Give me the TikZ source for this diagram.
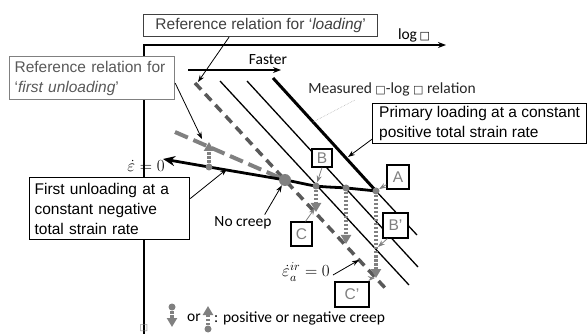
\RequirePackage{fix-cm}
\documentclass[tikz,border=0pt]{standalone}
\usepackage{fontspec}
\newfontfamily\arial{Liberation Sans}
\newfontfamily\calib{Carlito}
\newfontfamily\dejavu{DejaVu Sans}
\usetikzlibrary{arrows.meta, positioning}

\definecolor{dotgray}{HTML}{808080}
\definecolor{refgray}{HTML}{595959}
\definecolor{txtgray}{HTML}{404040}

\tikzset{
	lbl/.style={draw, line width=1.2pt, fill=white, font=\arial\fontsize{15.5}{20}\selectfont, align=left, inner xsep=5pt, inner ysep=2pt, anchor=north west},
	tag/.style={draw, line width=1.2pt, fill=white, text=dotgray, font=\arial\fontsize{15.5}{18}\selectfont, inner sep=0pt},
	dot/.style={circle, fill=dotgray, inner sep=0pt, minimum size=7pt},
	creep/.style={dotgray, line width=3.2pt, dash pattern=on 2.5pt off 1.5pt, -{Triangle[length=9pt,width=10pt]}},
	ptr/.style={line width=0.8pt, -{Stealth[length=7pt,width=5pt]}},
	txt/.style={font=\calib\fontsize{15.5}{18}\selectfont, inner sep=0pt},
	mth/.style={font=\fontsize{17}{20}\selectfont, inner sep=0pt},
	meas/.style={line width=1.3pt},
}

\begin{document}
\begin{tikzpicture}[x=1pt, y=-1pt]
	\useasboundingbox (0,0) rectangle (587,334);

	% axes
	\draw[line width=1.4pt, -{Stealth[length=8pt,width=6pt]}] (144,334) -- (144,45) -- (446,45);
	\node[txt] (xlab) at (414,35) {log\,{\dejavu\fontsize{11}{11}\selectfont □}};
	\node[inner sep=0pt, text=dotgray, font=\dejavu\fontsize{9}{9}\selectfont] (olab) at (144,328) {□};

	% points on the paths
	\coordinate (a) at (376,191);
	\coordinate (m) at (346,188);
	\coordinate (b) at (316,186);
	\coordinate (o) at (285,180);
	\coordinate (u) at (209,167);
	\coordinate (e0) at (163,159);

	% measured relations
	\coordinate (s1) at (273,78);
	\coordinate (t1) at (417,235);
	\coordinate (s2) at (247,81);
	\coordinate (t2) at (418,267);
	\coordinate (s3) at (220,81);
	\coordinate (t3) at (409,285);
	\draw[line width=3pt] (s1) -- (a);
	\draw[meas] (a) -- (t1);
	\draw[meas] (s2) -- (t2);
	\draw[meas] (s3) -- (t3);
	\draw[dotgray!60, line width=0.6pt, densely dotted] (313,122) -- (355,100);

	% reference relations
	\coordinate (rl) at (195,83);
	\coordinate (rle) at (387,290);
	\coordinate (ru) at (175,132);
	\draw[refgray, line width=3.5pt, dash pattern=on 9pt off 6pt] (rl) -- (rle);
	\draw[dotgray, line width=4pt, dash pattern=on 14pt off 6pt] (ru) -- (o);

	% first unloading
	\draw[line width=2.8pt, -{Stealth[length=12pt,width=10pt]}]
		plot[smooth, tension=0.5] coordinates {(a) (m) (b) (o) (u) (e0)};

	% creep
	\draw[creep] (m) -- (346,244);
	\draw[creep] (b) -- (316,212);
	\draw[creep] (a) -- (376,278);
	\draw[creep] (u) -- (209,142);

	\node[dot] (da) at (a) {};
	\node[dot] (dm) at (m) {};
	\node[dot] (db) at (b) {};
	\node[dot] (du) at (u) {};
	\node[dot, minimum size=12pt] (do) at (o) {};

	% faster
	\coordinate (f1) at (188,70);
	\coordinate (f2) at (281,70);
	\draw[line width=1.2pt, -{Stealth[length=8pt,width=6pt]}] (f1) -- (f2);
	\node[txt] (fast) at (268,60) {Faster};

	% labels
	\node[lbl, text=txtgray, draw=txtgray, minimum width=234pt, minimum height=22pt] (box1) at (143,14)
		{Reference relation for ‘\textit{loading}’};
	\node[lbl, text=refgray, draw=dotgray, text width=155pt, minimum height=43pt] (box2) at (9,56)
		{Reference relation for\\‘\textit{first unloading}’};
	\node[lbl, minimum width=214pt, minimum height=40pt] (box3) at (372,103)
		{Primary loading at a constant\\positive total strain rate};
	\node[lbl, text width=150pt, minimum height=62pt] (box4) at (29,177)
		{First unloading at a\\constant negative\\total strain rate};
	\node[txt, text=black!85] (meas) at (392,89)
		{Measured {\dejavu\fontsize{11}{11}\selectfont □}-log {\dejavu\fontsize{11}{11}\selectfont □} relation};
	\node[txt] (nocreep) at (243,223) {No creep};
	\node[mth] (eps) at (146,166) {$\dot{\varepsilon}=0$};
	\node[mth] (epsa) at (306,272) {$\dot{\varepsilon}_a^{ir}=0$};

	\node[tag, minimum width=22pt, minimum height=24pt] (tA) at (398,177) {A};
	\node[tag, minimum width=20pt, minimum height=18pt] (tB) at (322,158) {B};
	\node[tag, minimum width=25pt, minimum height=25pt] (tB2) at (395.5,225.5) {B’};
	\node[tag, minimum width=21pt, minimum height=24pt] (tC) at (301.5,234) {C};
	\node[tag, minimum width=34pt, minimum height=25pt] (tC2) at (352,294.5) {C’};

	% pointers
	\coordinate (p1) at (198,82);
	\coordinate (p2) at (202,139);
	\coordinate (p3) at (348,157);
	\coordinate (p4) at (227,169);
	\coordinate (p5) at (359,260);
	\coordinate (pc) at (315,208);
	\coordinate (pc2) at (375,278);
	\coordinate (pb2) at (378,247);
	\draw[ptr] (box1.south west) ++(86,0) -- (p1);
	\draw[ptr] (box2.east) ++(0,5) -- (p2);
	\draw[ptr] (box3.south west) ++(0,-5) -- (p3);
	\draw[ptr] (box4.east) ++(0,-10) -- (p4);
	\draw[ptr] (nocreep.north east) ++(-7,-2) -- (do);
	\draw[ptr] (epsa.east) ++(3,3) -- (p5);
	\draw[ptr, dotgray] (tA.south west) ++(0,-5) -- (da);
	\draw[ptr, dotgray] (tB.south) -- (db);
	\draw[ptr, dotgray] (tB2.south west) ++(5,0) -- (pb2);
	\draw[ptr, dotgray] (tC.north) ++(4,0) -- (pc);
	\draw[ptr, dotgray] (tC2.north east) ++(1,-3) -- (pc2);

	% key
	\coordinate (k1e) at (172,327);
	\coordinate (k2e) at (208,306);
	\draw[creep] (172,307) -- (k1e);
	\draw[creep] (208,329) -- (k2e);
	\node[dot] (k1) at (172,307) {};
	\node[dot] (k2) at (208,329) {};
	\node[txt] (kor) at (194,318) {or};
	\node[txt, anchor=west] (key) at (214,318) {: positive or negative creep};
\end{tikzpicture}
\end{document}
